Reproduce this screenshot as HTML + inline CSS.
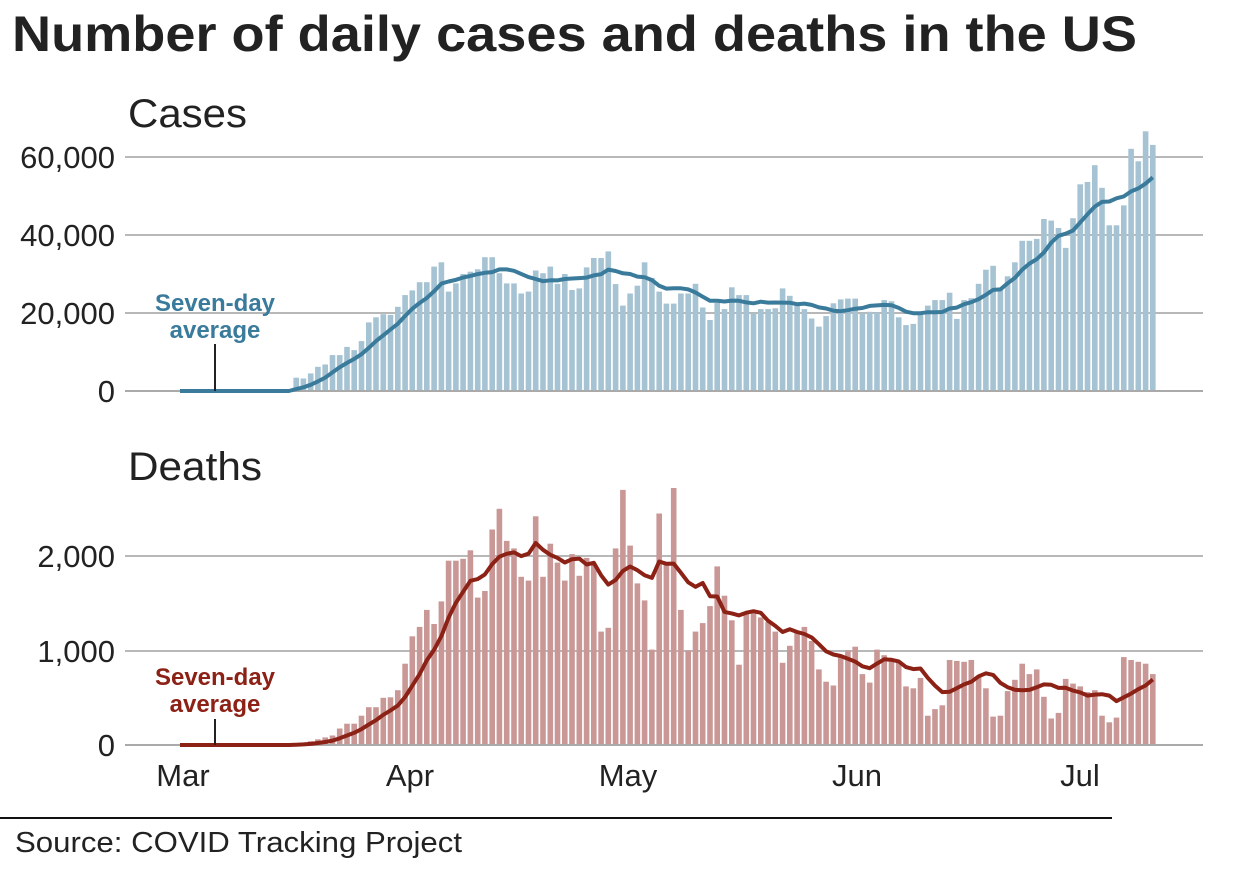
<!DOCTYPE html>
<html><head><meta charset="utf-8"><style>
body{margin:0;background:#fff;}
svg{display:block;font-family:"Liberation Sans",Arial,sans-serif;}
</style></head><body>
<svg id="s" width="1242" height="877" xmlns="http://www.w3.org/2000/svg">
<text x="12" y="51" font-size="50" font-weight="bold" fill="#222" textLength="1125" lengthAdjust="spacingAndGlyphs">Number of daily cases and deaths in the US</text>
<text x="128" y="127" font-size="40" fill="#222" textLength="119" lengthAdjust="spacingAndGlyphs">Cases</text>
<text x="128" y="480" font-size="40" fill="#222" textLength="134" lengthAdjust="spacingAndGlyphs">Deaths</text>
<g stroke="#b8b8b8" stroke-width="2">
<line x1="125" x2="1203" y1="157" y2="157"/><line x1="125" x2="1203" y1="235" y2="235"/><line x1="125" x2="1203" y1="313" y2="313"/>
<line x1="125" x2="1203" y1="556" y2="556"/><line x1="125" x2="1203" y1="651" y2="651"/>
</g>
<g font-size="31" fill="#222" text-anchor="end">
<text x="115" y="168">60,000</text><text x="115" y="246">40,000</text><text x="115" y="324">20,000</text><text x="115" y="402">0</text>
<text x="115" y="567">2,000</text><text x="115" y="662">1,000</text><text x="115" y="756">0</text>
</g>
<g id="cb" fill="#a6c3d3"></g>
<g id="db" fill="#c99896"></g>
<line x1="125" x2="1203" y1="391" y2="391" stroke="#aaa" stroke-width="2"/>
<line x1="125" x2="1203" y1="745" y2="745" stroke="#aaa" stroke-width="2"/>
<path id="cl" fill="none" stroke="#3a7b9c" stroke-width="4" stroke-linejoin="round"/>
<path id="dl" fill="none" stroke="#8c2116" stroke-width="4" stroke-linejoin="round"/>
<g font-size="24" font-weight="bold" text-anchor="middle">
<text x="215" y="311" fill="#3a7b9c">Seven-day</text><text x="215" y="338" fill="#3a7b9c">average</text>
<text x="215" y="685" fill="#8c2116">Seven-day</text><text x="215" y="712" fill="#8c2116">average</text>
</g>
<line x1="215" x2="215" y1="344" y2="391" stroke="#222" stroke-width="2"/>
<line x1="215" x2="215" y1="719" y2="745" stroke="#222" stroke-width="2"/>
<g font-size="31" fill="#222" text-anchor="middle">
<text x="183" y="786">Mar</text><text x="410" y="786">Apr</text><text x="628" y="786">May</text><text x="857" y="786">Jun</text><text x="1080" y="786">Jul</text>
</g>
<line x1="0" x2="1112" y1="818" y2="818" stroke="#111" stroke-width="2"/>
<text x="15" y="852" font-size="29" fill="#222" textLength="447" lengthAdjust="spacingAndGlyphs">Source: COVID Tracking Project</text>
</svg>
<script>
var cases=[3.4,3.2,4.5,6.2,6.8,9.2,11.3,10.5,12.8,17.6,18.9,19.7,19.5,21.6,24.6,25.8,27.9,31.9,33,25.5,27.6,30,30.6,31.2,34.3,34.3,30.2,27.6,25,25.5,30.9,30.2,31.9,27.5,30,25.9,26.3,31.7,34.1,35.8,27.4,21.9,25,27,33,29,25.5,22.4,22.4,25,27.5,21.4,18.2,22.6,21,26.6,24.6,24.6,19.9,21,21.2,26.3,24.4,22,21,18.6,16.5,19.2,22.5,23.5,23.7,19.9,20.3,20.1,23.3,23,18.9,16.9,17.2,20.3,21.9,23.3,25.2,18.5,23.3,23.8,27.5,31.1,32.1,26.1,29.4,33,38.5,39,44.1,43.7,41.8,36.7,44.3,53,53.6,57.9,52.1,42.5,47.6,62.1,58.9,66.6,63.1];
var deaths=[20,25,40,60,80,100,175,225,225,310,400,500,505,580,860,1150,1250,1430,1280,1520,1950,1950,1970,2060,1970,1560,1630,2280,2500,2160,2080,1780,1740,1760,2420,1780,2130,1930,1740,2020,1790,1980,1650,1910,1200,1240,2080,2700,2110,1710,1530,1200,1010,2450,1910,2720,1430,1000,1200,1290,1470,1890,1580,1320,880,850,1400,1400,1350,1300,1200,870,1050,1200,1250,1100,800,670,630,940,1000,1230,1040,750,660,1010,950,900,880,620,600,710,310,380,420,900,890,880,900,590,720,600,300,310,570,690,860,750,800,510,280,340,700,650,620,560,560,580,310,240,290,930,900,880,860,750];
function X(d){return 180+7.26*d;}
var N=135;
function resample(arr,anch){
  var full=[];for(var i=0;i<N;i++)full.push(0);
  for(var d=anch[0][1];d<=anch[anch.length-1][1];d++){
    var j=0;while(j<anch.length-2&&d>anch[j+1][1])j++;
    var a=anch[j],b=anch[j+1];
    var t=a[0]+(d-a[1])*(b[0]-a[0])/(b[1]-a[1]);
    var k=Math.round(t);k=Math.max(0,Math.min(arr.length-1,k));
    full[d]=arr[k];
  }
  return full;
}
function series(full,scale,base,g,lid){
  var h='';
  for(var i=0;i<N;i++){var v=full[i];if(v<=0)continue;var y=base-v*scale;
    h+='<rect x="'+(X(i)-2.8).toFixed(1)+'" y="'+y.toFixed(1)+'" width="5.6" height="'+(base-y).toFixed(1)+'"/>';}
  document.getElementById(g).innerHTML=h;
  var p='';
  for(var i=0;i<N;i++){var s=0;for(var k=i-6;k<=i;k++){if(k>=0)s+=full[k];}var a=s/7;
    p+=(i?'L':'M')+X(i).toFixed(1)+' '+(base-a*scale).toFixed(1);}
  document.getElementById(lid).setAttribute('d',p);
}
var cf=resample(cases,[[0,16],[cases.length-1,134]]);
var df=resample(deaths,[[0,16],[20,37],[55,68],[deaths.length-1,134]]);
series(cf,3.9,391,'cb','cl');
series(df,0.0945,745,'db','dl');
</script>
</body></html>
